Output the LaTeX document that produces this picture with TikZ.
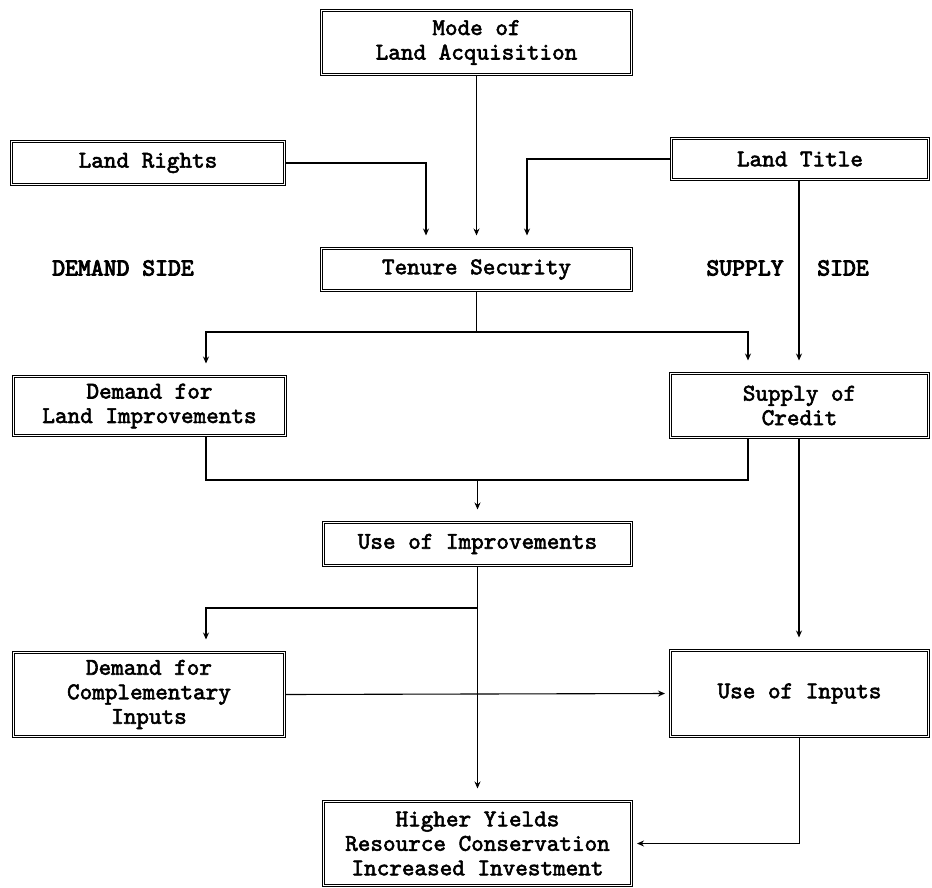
\documentclass[tikz,border=0pt]{standalone}
\usepackage{fontspec}
\newfontfamily\boxfont{lmmono10-regular.otf}[FakeBold=2.4]
\newfontfamily\sidefont{lmmono10-regular.otf}[FakeBold=3.6]
\usetikzlibrary{arrows.meta}
\begin{document}
\begin{tikzpicture}[x=1pt,y=-1pt,
  box/.style={draw, line width=1pt, double, double distance=1.3pt,
    inner sep=0pt, align=center,
    font=\boxfont\bfseries\fontsize{24}{24.5}\selectfont},
  sidelabel/.style={font=\sidefont\bfseries\fontsize{24.5}{25}\selectfont, inner sep=0pt},
  link/.style={line width=1.1pt},
  arr/.style={line width=1.1pt, -{Stealth[length=7pt,width=6pt]}, shorten >=12.5pt},
  harr/.style={line width=1.1pt, -{Stealth[length=7pt,width=6pt]}, shorten >=5pt}]
\useasboundingbox (0,0) rectangle (932,888);

% boxes
\node[box, minimum width=310pt, minimum height=64pt] (mode) at (476.5,42.5) {Mode of\\Land Acquisition};
\node[box, minimum width=273pt, minimum height=43pt] (rights) at (148,163) {Land Rights};
\node[box, minimum width=257pt, minimum height=41pt] (title) at (800,159) {Land Title};
\node[box, minimum width=310pt, minimum height=42pt] (tenure) at (476.5,269.5) {Tenure Security};
\node[box, minimum width=272pt, minimum height=59pt] (dli) at (149.5,406) {Demand for\\Land Improvements};
\node[box, minimum width=258pt, minimum height=64pt] (credit) at (799.5,405.5) {Supply of\\Credit};
\node[box, minimum width=308pt, minimum height=43pt] (useimp) at (477.5,544) {Use of Improvements};
\node[box, minimum width=271pt, minimum height=84pt] (dci) at (149,694.5) {Demand for\\Complementary\\Inputs};
\node[box, minimum width=258pt, minimum height=86pt] (inputs) at (799.5,693.5) {Use of Inputs};
\node[box, minimum width=308pt, minimum height=84pt] (yields) at (477.5,843.5) {Higher Yields\\Resource Conservation\\Increased Investment};

% side labels
\node[sidelabel] (demside) at (123,268) {DEMAND SIDE};
\node[sidelabel] (supply) at (745,268) {SUPPLY};
\node[sidelabel] (supside) at (843,268) {SIDE};

% junction points
\coordinate (split1) at (476.5,332);
\coordinate (join1) at (477.5,480);
\coordinate (split2) at (477.5,608);

% into tenure security
\draw[arr] (mode.south) -- (tenure.north);
\draw[arr] (rights.east) -| ([xshift=-50.5pt]tenure.north);
\draw[arr] (title.west) -| ([xshift=50.5pt]tenure.north);

% land title to credit
\draw[arr] ([xshift=-1pt]title.south) -- ([xshift=-0.5pt]credit.north);

% tenure security splits to demand and supply
\draw[link] (tenure.south) -- (split1);
\draw[arr] (split1) -| ([xshift=56.5pt]dli.north);
\draw[arr] (split1) -| ([xshift=-51.5pt]credit.north);

% demand and supply join into use of improvements
\draw[link] ([xshift=56.5pt]dli.south) |- (join1) -| ([xshift=-51.5pt]credit.south);
\draw[arr] (join1) -- (useimp.north);

% use of improvements
\draw[arr] (useimp.south) -- (yields.north);
\draw[arr] (split2) -| ([xshift=57pt]dci.north);

% credit to inputs
\draw[arr] ([xshift=-0.5pt]credit.south) -- ([xshift=-0.5pt]inputs.north);
\draw[harr] (dci.east) -- (inputs.west);

% inputs to outcomes
\draw[harr] (inputs.south) |- (yields.east);
\end{tikzpicture}
\end{document}
